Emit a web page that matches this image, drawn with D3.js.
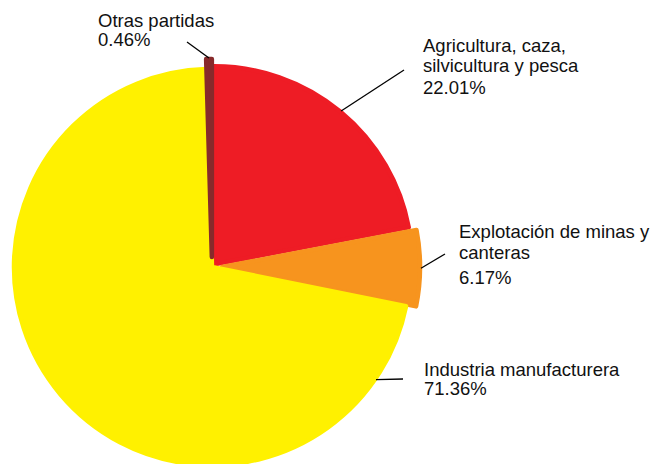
<!DOCTYPE html>
<html>
<head>
<meta charset="utf-8">
<script src="https://cdn.jsdelivr.net/npm/d3@7"></script>
<style>
  html, body { margin: 0; padding: 0; background: #fff; }
  svg { display: block; }
  text { font-family: "Liberation Sans", Arial, Helvetica, sans-serif; font-size: 18.5px; fill: #111; }
</style>
</head>
<body>
<script>
// ---- Data ----
const categories = ["Agricultura, caza, silvicultura y pesca", "Explotación de minas y canteras", "Industria manufacturera", "Otras partidas"];
const values = [22.01, 6.17, 71.36, 0.46];

// ---- Styles / layout ----
const colors = ["#EE1C25", "#F7941E", "#FFF100", "#872A2B"];
const explode = [3.5, 10, 0, 10];
const labelLayout = [
  { lines: ["Agricultura, caza,", "silvicultura y pesca"], x: 423, ys: [52, 72], py: 93.5, leaderDeg: null, end: [404, 70] },
  { lines: ["Explotación de minas y", "canteras"], x: 459, ys: [238, 259], py: 284, leaderDeg: null, end: [445, 254] },
  { lines: ["Industria manufacturera"], x: 424, ys: [376], py: 394.5, leaderDeg: 124.5, end: [403, 379] },
  { lines: ["Otras partidas"], x: 98, ys: [27], py: 45.7, leaderDeg: null, end: [187, 42] }
];

const W = 659, H = 464;
const cx = 212, cy = 267, R = 198;

const svg = d3.select("body").append("svg")
  .attr("width", W).attr("height", H)
  .attr("viewBox", `0 0 ${W} ${H}`);

const pie = d3.pie().sort(null).value(d => d).startAngle(0).endAngle(2 * Math.PI);
const arcs = pie(values);
const arc = d3.arc().innerRadius(0).outerRadius(R);

const g = svg.append("g").attr("transform", `translate(${cx},${cy})`);

arcs.forEach((a, i) => {
  const mid = (a.startAngle + a.endAngle) / 2;
  const ox = Math.sin(mid) * explode[i];
  const oy = -Math.cos(mid) * explode[i];
  a.ox = ox; a.oy = oy; a.mid = mid;
  g.append("path")
    .attr("d", arc(a))
    .attr("transform", `translate(${ox},${oy})`)
    .attr("fill", colors[i])
    .attr("stroke", colors[i])
    .attr("stroke-width", 4.5)
    .attr("stroke-linejoin", "round");
});

// Leader lines and labels
arcs.forEach((a, i) => {
  const L = labelLayout[i];
  const ang = L.leaderDeg === null ? a.mid : L.leaderDeg * Math.PI / 180;
  const sx = cx + a.ox + Math.sin(ang) * (R + 1);
  const sy = cy + a.oy - Math.cos(ang) * (R + 1);
  svg.append("line")
    .attr("x1", sx).attr("y1", sy)
    .attr("x2", L.end[0]).attr("y2", L.end[1])
    .attr("stroke", "#000").attr("stroke-width", 1.3);
  L.lines.forEach((t, j) => {
    svg.append("text").attr("x", L.x).attr("y", L.ys[j]).text(t);
  });
  svg.append("text").attr("x", L.x).attr("y", L.py).text(values[i].toFixed(2) + "%");
});
</script>
</body>
</html>
